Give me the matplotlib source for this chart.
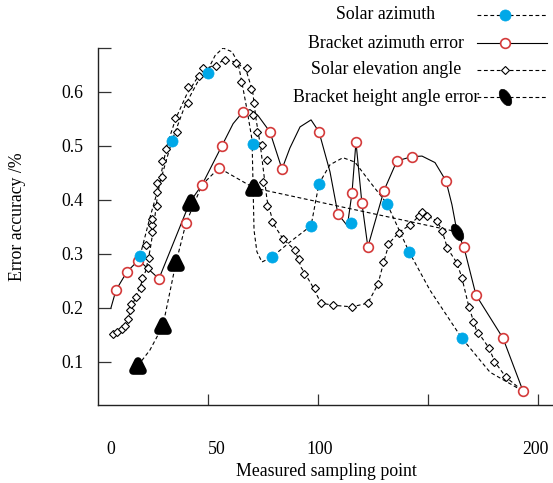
import matplotlib
matplotlib.use("Agg")
import matplotlib.pyplot as plt
from matplotlib.lines import Line2D
from matplotlib.markers import MarkerStyle
from matplotlib.transforms import Affine2D

plt.rcParams["font.family"] = ["Liberation Serif", "DejaVu Serif"]

# Solar azimuth: markers and the smoothed dashed curve
sa_x = [19.3, 33.8, 50.2, 70.6, 79.2, 97.0, 100.6, 115.1, 131.5, 141.5, 165.5]
sa_y = [0.296, 0.509, 0.635, 0.504, 0.294, 0.352, 0.430, 0.357, 0.393, 0.304, 0.144]
sa_line_x = [19.3, 23.8, 28.4, 33.8, 39.7, 45.6, 50.2, 53.4, 57.0, 61.1, 63.8, 65.6,
             67.9, 70.2, 70.6, 71.1, 72.4, 74.7, 79.2, 87.4, 97.0, 100.6, 105.6,
             111.5, 116.9, 123.8, 131.5, 141.5, 151.0, 165.5, 178.3, 193.3]
sa_line_y = [0.296, 0.367, 0.433, 0.509, 0.574, 0.619, 0.641, 0.667, 0.681, 0.674,
             0.654, 0.617, 0.567, 0.511, 0.437, 0.344, 0.304, 0.285, 0.294, 0.322,
             0.352, 0.430, 0.465, 0.478, 0.470, 0.433, 0.393, 0.304, 0.233, 0.144,
             0.081, 0.046]

# Bracket azimuth error: circles and solid curve
ba_x = [8.4, 13.4, 18.3, 27.9, 40.2, 47.5, 55.2, 56.5, 66.1, 78.3, 83.8, 100.6,
        109.2, 115.6, 117.4, 120.1, 122.8, 130.1, 136.0, 142.8, 158.3, 166.4,
        171.9, 184.2, 193.3]
ba_y = [0.233, 0.267, 0.287, 0.254, 0.357, 0.428, 0.459, 0.500, 0.563, 0.526,
        0.457, 0.526, 0.374, 0.413, 0.507, 0.394, 0.313, 0.417, 0.472, 0.480,
        0.435, 0.313, 0.224, 0.144, 0.046]
ba_line_x = [6.1, 8.4, 13.4, 18.3, 20.7, 27.9, 42.0, 47.5, 56.5, 61.6, 66.1, 69.3,
             72.9, 78.3, 83.8, 87.4, 92.0, 97.0, 100.6, 105.6, 109.2, 113.5, 115.6,
             117.4, 120.1, 122.8, 130.1, 136.0, 142.8, 147.4, 153.3, 158.3, 161.0,
             163.3, 166.4, 171.9, 184.2, 193.3]
ba_line_y = [0.200, 0.233, 0.267, 0.287, 0.281, 0.254, 0.396, 0.428, 0.500, 0.541,
             0.563, 0.567, 0.556, 0.526, 0.457, 0.496, 0.535, 0.548, 0.526, 0.452,
             0.374, 0.352, 0.413, 0.507, 0.394, 0.313, 0.417, 0.472, 0.480, 0.481,
             0.469, 0.435, 0.391, 0.341, 0.313, 0.224, 0.144, 0.046]

# Solar elevation angle: diamonds and dashed curve
se_x = [7.0, 8.9, 11.1, 12.5, 13.9, 14.8, 15.2, 17.5, 19.7, 20.2, 22.9, 23.4, 22.0,
        24.8, 24.8, 24.8, 27.0, 27.0, 27.0, 29.3, 29.3, 31.1, 36.1, 35.2, 41.1,
        41.1, 46.1, 47.9, 53.8, 57.9, 62.9, 67.9, 65.2, 69.7, 71.1, 70.6, 72.4,
        74.7, 76.9, 75.1, 76.9, 79.2, 84.2, 89.7, 91.5, 93.8, 98.8, 101.5, 106.9,
        115.6, 122.8, 127.4, 129.6, 131.9, 136.9, 141.9, 146.0, 147.4, 149.6,
        154.2, 156.4, 158.7, 163.3, 165.5, 168.7, 170.5, 172.8, 177.8, 180.1, 185.5]
se_y = [0.152, 0.156, 0.161, 0.167, 0.180, 0.196, 0.207, 0.220, 0.237, 0.256,
        0.274, 0.293, 0.317, 0.341, 0.354, 0.365, 0.389, 0.415, 0.431, 0.443,
        0.472, 0.494, 0.526, 0.552, 0.580, 0.609, 0.630, 0.644, 0.648, 0.659,
        0.654, 0.644, 0.619, 0.606, 0.580, 0.557, 0.526, 0.502, 0.474, 0.433,
        0.389, 0.359, 0.328, 0.307, 0.291, 0.263, 0.237, 0.209, 0.206, 0.202,
        0.209, 0.244, 0.285, 0.319, 0.339, 0.354, 0.370, 0.378, 0.370, 0.361,
        0.343, 0.311, 0.283, 0.256, 0.202, 0.174, 0.154, 0.126, 0.100, 0.072]
se_line_x = [7.0, 11.0, 14.0, 16.0, 19.0, 22.0, 24.0, 25.5, 27.0, 29.0, 31.5, 35.5,
             40.5, 46.0, 52.0, 57.9, 63.0, 67.5, 70.5, 72.0, 74.0, 75.5, 77.0, 80.0,
             84.2, 89.7, 92.5, 97.0, 101.5, 107.0, 115.6, 122.8, 127.4, 130.0,
             132.5, 137.0, 142.0, 146.0, 147.5, 150.0, 154.2, 156.5, 159.0, 163.3,
             165.5, 168.7, 172.0, 177.8, 180.5, 185.5, 193.3]
se_line_y = [0.152, 0.161, 0.182, 0.207, 0.235, 0.270, 0.310, 0.350, 0.400, 0.450,
             0.500, 0.550, 0.595, 0.630, 0.648, 0.659, 0.655, 0.640, 0.600, 0.550,
             0.500, 0.450, 0.400, 0.355, 0.328, 0.307, 0.275, 0.245, 0.209, 0.205,
             0.202, 0.209, 0.244, 0.285, 0.320, 0.340, 0.354, 0.370, 0.378, 0.370,
             0.361, 0.343, 0.310, 0.283, 0.256, 0.202, 0.160, 0.126, 0.100, 0.072,
             0.046]

# Bracket height angle error: blobs and dashed line
bh_x = [18.3, 29.7, 35.6, 42.5, 71.1, 163.3]
bh_y = [0.093, 0.167, 0.283, 0.394, 0.422, 0.341]
bh_line_x = [18.3, 23.8, 29.7, 35.6, 40.2, 47.5, 55.2, 71.1, 163.3]
bh_line_y = [0.093, 0.122, 0.167, 0.283, 0.357, 0.428, 0.459, 0.422, 0.341]

labels = ["Solar azimuth", "Bracket azimuth error",
          "Solar elevation angle", "Bracket height angle error"]
xtick_labels = ["0", "50", "100", "150", "200"]
xtick_label_pos = [6, 54, 101, 150, 199]
yticks = [0.1, 0.2, 0.3, 0.4, 0.5, 0.6]

BLUE = "#00a8e8"
RED = "#d43a3a"
FS = 12.8
DASH = (3.4, 2.4)

blob = MarkerStyle("^", joinstyle="round")
blob_tilt = MarkerStyle("o", transform=Affine2D().scale(0.55, 1.0).rotate_deg(30))

W, H = 553, 483
fig = plt.figure(figsize=(W / 100, H / 100), dpi=100)
ax = fig.add_axes([97.5 / W, 1 - 405 / H, 1 - 97.5 / W, (405 - 48) / H])
ax.set_xlim(0, 206.9)
ax.set_ylim(0.0204, 0.681)

ln_kw = dict(color="black", lw=0.8)
ax.plot(sa_line_x, sa_line_y, ls=(0, DASH), **ln_kw, zorder=2)
ax.plot(ba_line_x, ba_line_y, ls="-", **ln_kw, zorder=2)
ax.plot(se_line_x, se_line_y, ls=(0, DASH), **ln_kw, zorder=2)
ax.plot(bh_line_x, bh_line_y, ls=(0, DASH), **ln_kw, zorder=2)

sa_mk = dict(marker="o", ms=8, mfc=BLUE, mec=BLUE, mew=0.5)
ba_mk = dict(marker="o", ms=7, mfc="white", mec=RED, mew=1.2)
se_mk = dict(marker="D", ms=3.6, mfc="white", mec="black", mew=0.8)
bh_mk = dict(marker=blob, ms=7, mfc="black", mec="black", mew=5.5)

ax.plot(se_x, se_y, ls="none", **se_mk, zorder=3, clip_on=False)
ax.plot(ba_x, ba_y, ls="none", **ba_mk, zorder=4, clip_on=False)
ax.plot(sa_x, sa_y, ls="none", **sa_mk, zorder=5, clip_on=False)
ax.plot(bh_x[:-1], bh_y[:-1], ls="none", **bh_mk, zorder=6, clip_on=False)
ax.plot(bh_x[-1:], bh_y[-1:], ls="none", marker=blob_tilt, ms=13,
        mfc="black", mec="black", mew=0.5, zorder=6, clip_on=False)

# axes frame: left and bottom only, ticks inward
for s in ("top", "right"):
    ax.spines[s].set_visible(False)
for s in ("left", "bottom"):
    ax.spines[s].set_linewidth(1.0)
    ax.spines[s].set_color("#222222")

ax.set_yticks(yticks + [0.681])
ax.set_yticklabels([f"{v:.1f}" for v in yticks] + [""])
ax.tick_params(axis="y", direction="in", length=9.5, width=0.9, pad=10,
               labelsize=FS, color="#333333")
ax.set_xticks([50, 100, 150, 200])
ax.set_xticklabels([])
ax.tick_params(axis="x", which="major", direction="in", length=8, width=0.9,
               color="#333333")
ax.set_xticks(xtick_label_pos, minor=True)
ax.set_xticklabels(xtick_labels, minor=True)
ax.tick_params(axis="x", which="minor", length=0, pad=26, labelsize=FS)

fig.text(326 / W, 1 - 472 / H, "Measured sampling point", ha="center",
         va="center", fontsize=FS)
fig.text(18 / W, 1 - 217 / H, "Error accuracy /%", ha="center", va="center",
         rotation=90, fontsize=FS)

# legend drawn by hand: centred text, sample line on the right
leg_y = [14.5, 43, 70, 97]
leg_styles = [
    (dict(ls=(0, DASH)), sa_mk),
    (dict(ls="-"), ba_mk),
    (dict(ls=(0, DASH)), se_mk),
    (dict(ls=(0, DASH)), dict(marker=blob_tilt, ms=13, mfc="black", mec="black", mew=0.5)),
]
for lab, yy, (lst, mk) in zip(labels, leg_y, leg_styles):
    fy = 1 - yy / H
    fig.text(386 / W, fy, lab, ha="center", va="center", fontsize=FS)
    fig.add_artist(Line2D([477 / W, 547 / W], [fy, fy], transform=fig.transFigure,
                          color="black", lw=0.8, **lst))
    fig.add_artist(Line2D([505 / W], [fy], transform=fig.transFigure, ls="none", **mk))

fig.savefig("out.png", dpi=100)
